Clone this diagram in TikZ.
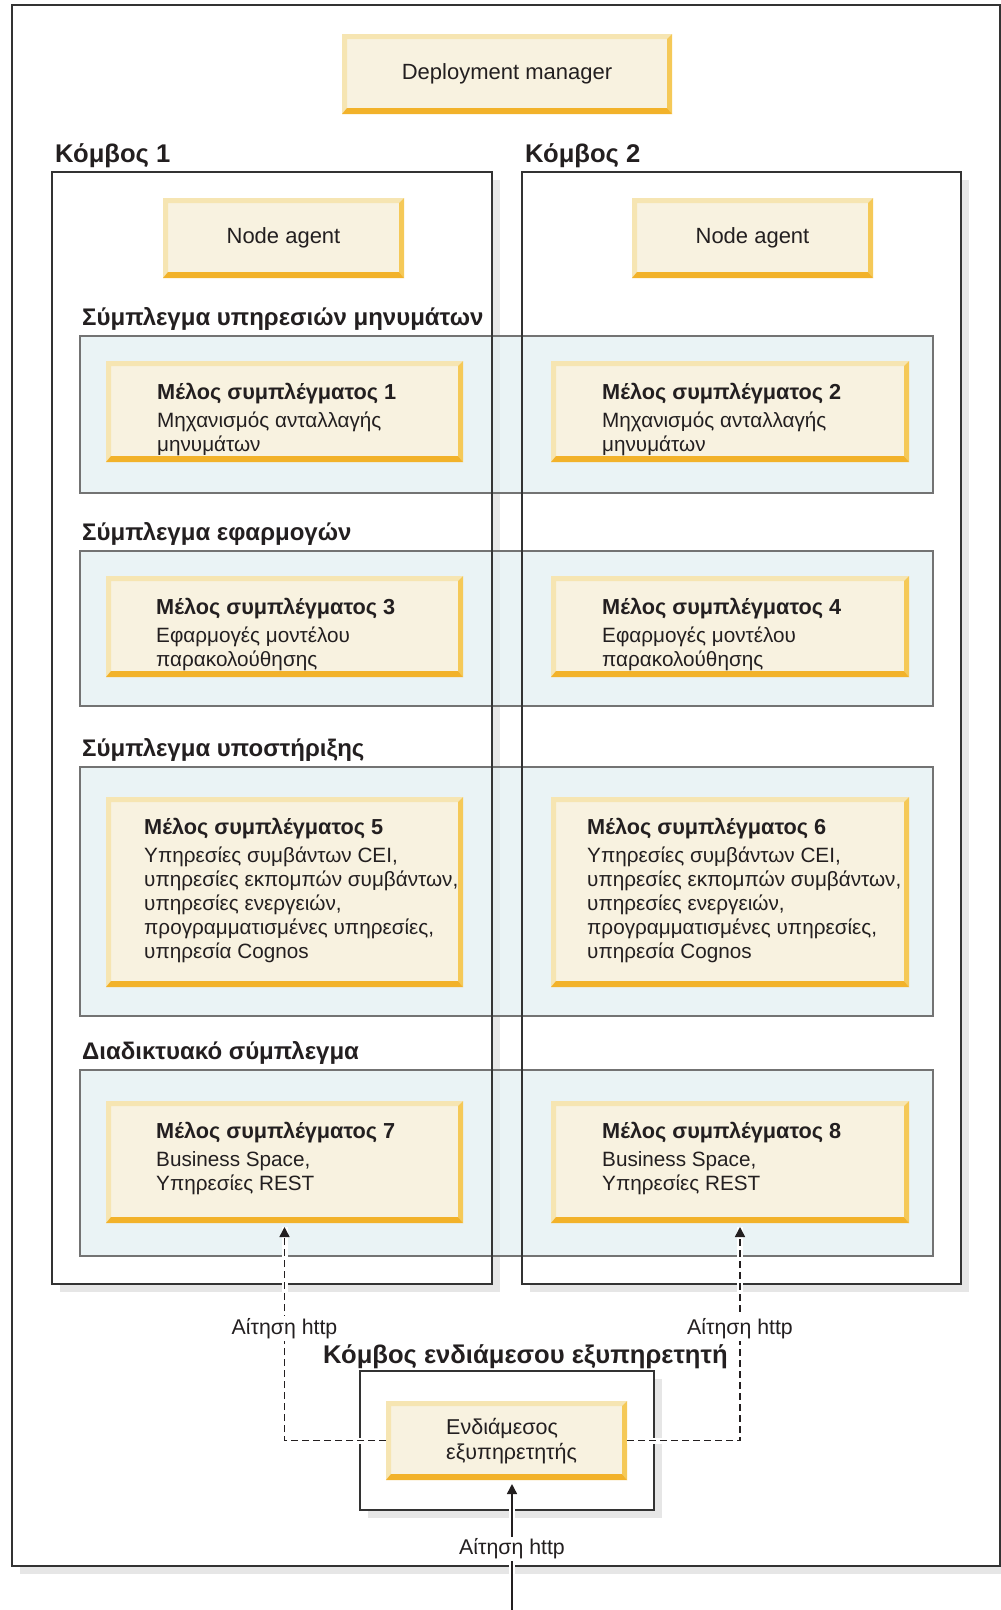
\documentclass[tikz,border=0pt]{standalone}
\usepackage{fontspec}
\setmainfont{Liberation Sans}
\usetikzlibrary{arrows.meta,shadows,calc}
\definecolor{boxfill}{RGB}{248,242,224}
\definecolor{bevlight}{RGB}{246,229,178}
\definecolor{bevright}{RGB}{245,201,88}
\definecolor{bevbottom}{RGB}{242,178,42}
\definecolor{clfill}{RGB}{226,238,241}
\definecolor{cledge}{RGB}{115,115,115}
\definecolor{shade}{RGB}{230,230,230}
\definecolor{ink}{RGB}{35,31,32}
\definecolor{framec}{RGB}{51,51,51}

\tikzset{
  bevelbox/.style={rectangle, fill=boxfill, inner sep=0pt, outer sep=0pt, align=left,
    font=\fontsize{22}{25}\selectfont,
    path picture={
      \fill[bevlight] (path picture bounding box.south west) -- (path picture bounding box.north west)
        -- (path picture bounding box.north east) -- ++(-5pt,-5pt)
        -- ($(path picture bounding box.north west)+(5pt,-5pt)$)
        -- ($(path picture bounding box.south west)+(5pt,6pt)$) -- cycle;
      \fill[bevright] (path picture bounding box.north east) -- (path picture bounding box.south east)
        -- ++(-5pt,6pt) -- ($(path picture bounding box.north east)+(-5pt,-5pt)$) -- cycle;
      \fill[bevbottom] (path picture bounding box.south west) -- (path picture bounding box.south east)
        -- ++(-5pt,6pt) -- ($(path picture bounding box.south west)+(5pt,6pt)$) -- cycle;
    }},
  frame/.style={rectangle, draw=framec, line width=1.5pt, fill=white, inner sep=0pt, outer sep=0pt,
    anchor=north west, drop shadow={shadow xshift=8pt, shadow yshift=-8pt, fill=shade, opacity=1}},
  frameline/.style={draw=framec, line width=1.5pt},
  cluster/.style={rectangle, draw=cledge, line width=1.5pt, fill=clfill, fill opacity=0.7,
    inner sep=0pt, outer sep=0pt, anchor=north west},
  heading/.style={anchor=base west, inner sep=0pt, font=\fontsize{24}{28}\selectfont\bfseries},
  nodeheading/.style={heading, font=\fontsize{25.6}{30}\selectfont\bfseries},
  membertext/.style={anchor=base west, align=left, inner sep=0pt, font=\fontsize{20.7}{24}\selectfont},
  req/.style={line width=1.5pt, draw=ink, -{Triangle[length=10pt,width=10pt]}, shorten >=4pt,
    preaction={draw=white, line width=6pt, solid, arrows=-}},
  reqdash/.style={req, dash pattern=on 7pt off 4pt},
  reqlabel/.style={fill=white, inner sep=2pt, font=\fontsize{21.3}{24}\selectfont}
}
\newcommand{\mtitle}[1]{{\fontsize{21.7}{24}\selectfont\bfseries #1}}

\begin{document}
\begin{tikzpicture}[x=1pt, y=-1pt, every node/.append style={text=ink}]
\useasboundingbox (0,0) rectangle (1001,1610);

% outer frame and deployment manager
\node (outer) [frame, minimum width=988pt, minimum height=1561pt] at (12,5) {};
\node (dm) [bevelbox, minimum width=330pt, minimum height=80pt] at (507,74) {Deployment manager};

% nodes 1 and 2
\node (k1) [nodeheading] at (55,162) {Κόμβος 1};
\node (k2) [nodeheading] at (525,162) {Κόμβος 2};
\node (n1) [frame, minimum width=440pt, minimum height=1112pt] at (52,172) {};
\node (n2) [frame, minimum width=439pt, minimum height=1112pt] at (522,172) {};
\node (na1) [bevelbox, minimum width=241pt, minimum height=80pt] at (283.5,238) {Node agent};
\node (na2) [bevelbox, minimum width=241pt, minimum height=80pt] at (752.5,238) {Node agent};

% clusters
\node (h1) [heading] at (82,325) {Σύμπλεγμα υπηρεσιών μηνυμάτων};
\node (h2) [heading] at (82,540) {Σύμπλεγμα εφαρμογών};
\node (h3) [heading] at (82,756) {Σύμπλεγμα υποστήριξης};
\node (h4) [heading] at (82,1059) {Διαδικτυακό σύμπλεγμα};
\node (c1) [cluster, minimum width=853pt, minimum height=157pt] at (80,336) {};
\node (c2) [cluster, minimum width=853pt, minimum height=155pt] at (80,551) {};
\node (c3) [cluster, minimum width=853pt, minimum height=249pt] at (80,767) {};
\node (c4) [cluster, minimum width=853pt, minimum height=186pt] at (80,1070) {};
\draw [frameline] (n1.north west) rectangle (n1.south east);
\draw [frameline] (n2.north west) rectangle (n2.south east);

% cluster members (text nodes sit on the baseline of their last line)
\node (m1) [bevelbox, anchor=north west, minimum width=357pt, minimum height=101pt] at (106,361) {};
\node (m2) [bevelbox, anchor=north west, minimum width=358pt, minimum height=101pt] at (551,361) {};
\node (m3) [bevelbox, anchor=north west, minimum width=357pt, minimum height=101pt] at (106,576) {};
\node (m4) [bevelbox, anchor=north west, minimum width=358pt, minimum height=101pt] at (551,576) {};
\node (m5) [bevelbox, anchor=north west, minimum width=357pt, minimum height=190pt] at (106,797) {};
\node (m6) [bevelbox, anchor=north west, minimum width=358pt, minimum height=190pt] at (551,797) {};
\node (m7) [bevelbox, anchor=north west, minimum width=357pt, minimum height=122pt] at (106,1101) {};
\node (m8) [bevelbox, anchor=north west, minimum width=358pt, minimum height=122pt] at (551,1101) {};
\node (t1) [membertext] at (157,451) {\mtitle{Μέλος συμπλέγματος 1}\\[4pt]Μηχανισμός ανταλλαγής\\μηνυμάτων};
\node (t2) [membertext] at (602,451) {\mtitle{Μέλος συμπλέγματος 2}\\[4pt]Μηχανισμός ανταλλαγής\\μηνυμάτων};
\node (t3) [membertext] at (156,666) {\mtitle{Μέλος συμπλέγματος 3}\\[4pt]Εφαρμογές μοντέλου\\παρακολούθησης};
\node (t4) [membertext] at (602,666) {\mtitle{Μέλος συμπλέγματος 4}\\[4pt]Εφαρμογές μοντέλου\\παρακολούθησης};
\node (t5) [membertext] at (144,958) {\mtitle{Μέλος συμπλέγματος 5}\\[4pt]Υπηρεσίες συμβάντων CEI,\\υπηρεσίες εκπομπών συμβάντων,\\υπηρεσίες ενεργειών,\\προγραμματισμένες υπηρεσίες,\\υπηρεσία Cognos};
\node (t6) [membertext] at (587,958) {\mtitle{Μέλος συμπλέγματος 6}\\[4pt]Υπηρεσίες συμβάντων CEI,\\υπηρεσίες εκπομπών συμβάντων,\\υπηρεσίες ενεργειών,\\προγραμματισμένες υπηρεσίες,\\υπηρεσία Cognos};
\node (t7) [membertext] at (156,1190) {\mtitle{Μέλος συμπλέγματος 7}\\[4pt]Business Space,\\Υπηρεσίες REST};
\node (t8) [membertext] at (602,1190) {\mtitle{Μέλος συμπλέγματος 8}\\[4pt]Business Space,\\Υπηρεσίες REST};

% proxy server node
\node (hp) [nodeheading] at (323,1363) {Κόμβος ενδιάμεσου εξυπηρετητή};
\node (pf) [frame, minimum width=294pt, minimum height=139pt] at (360,1371) {};
\node (px) [bevelbox, minimum width=241pt, minimum height=79pt] at (506.5,1440.5) {};
\node (pxt) [membertext, font=\fontsize{21.5}{25}\selectfont] at (446,1459) {Ενδιάμεσος\\εξυπηρετητής};

% http requests
\coordinate (inlet) at (512,1610);
\draw [reqdash] (px.west) -| node (lbl1) [reqlabel, pos=0.757] {Αίτηση http} (m7.south);
\draw [reqdash] (px.east) -| node (lbl2) [reqlabel, pos=0.757] {Αίτηση http} ([xshift=10pt]m8.south);
\draw [req] (inlet) -- node (lbl3) [reqlabel, pos=0.47] {Αίτηση http} (inlet |- px.south);
\end{tikzpicture}
\end{document}
